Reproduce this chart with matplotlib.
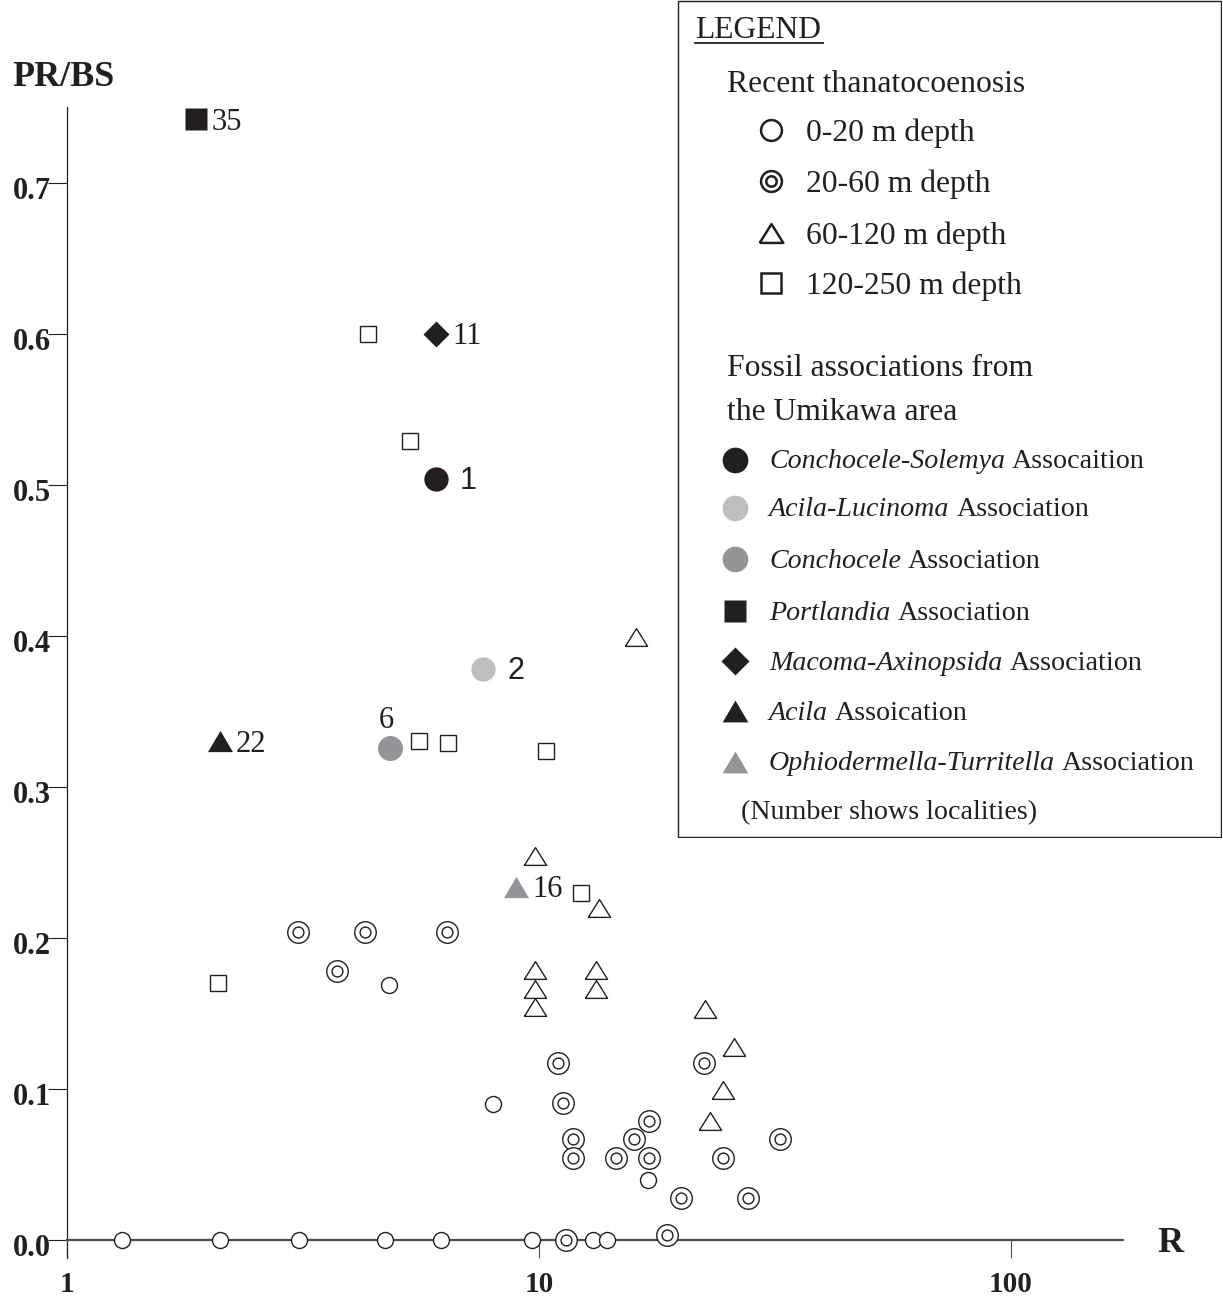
import numpy as np
import matplotlib
matplotlib.use("Agg")
import matplotlib.pyplot as plt
from matplotlib.patches import Rectangle
from matplotlib.transforms import ScaledTranslation

plt.rcParams['font.family'] = ['Liberation Serif', 'DejaVu Serif']

# ---- data (R = x, PR/BS = y) ----
# recent thanatocoenosis
r_0_20 = [4.82, 8.01, 17.0, 1.31, 2.11, 3.10, 4.73, 6.21, 9.69, 13.05, 13.97]
p_0_20 = [0.169, 0.090, 0.040, 0.0, 0.0, 0.0, 0.0, 0.0, 0.0, 0.0, 0.0]

r_20_60 = [3.09, 4.29, 6.40, 3.74, 11.0, 11.27, 11.83, 11.83, 14.6, 15.9,
           17.1, 17.1, 20.0, 27.7, 24.6, 22.4, 32.5, 11.4, 18.7]
p_20_60 = [0.204, 0.204, 0.204, 0.178, 0.117, 0.091, 0.067, 0.054, 0.054, 0.067,
           0.079, 0.054, 0.028, 0.028, 0.054, 0.117, 0.067, 0.0, 0.003]

r_60_120 = [16.1, 9.83, 13.4, 9.83, 9.83, 9.83, 13.2, 13.2, 22.5, 25.9, 24.6, 23.1]
p_60_120 = [0.399, 0.254, 0.220, 0.179, 0.166, 0.154, 0.179, 0.166, 0.153, 0.128, 0.099, 0.079]

r_120_250 = [4.35, 5.34, 5.58, 6.43, 10.37, 12.3, 2.09]
p_120_250 = [0.600, 0.529, 0.330, 0.329, 0.324, 0.230, 0.170]

# fossil associations (Umikawa area)
fossil_names = ['Conchocele-Solemya', 'Acila-Lucinoma', 'Conchocele', 'Portlandia',
                'Macoma-Axinopsida', 'Acila', 'Ophiodermella-Turritella']
fossil_suffix = ['Assocaition', 'Association', 'Association', 'Association',
                 'Association', 'Assoication', 'Association']
fossil_r = [6.06, 7.63, 4.84, 1.877, 6.06, 2.11, 8.96]
fossil_p = [0.504, 0.378, 0.326, 0.742, 0.600, 0.330, 0.234]
fossil_loc = ['1', '2', '6', '35', '11', '22', '16']

xticks = [1, 10, 100]
yticks = [0.0, 0.1, 0.2, 0.3, 0.4, 0.5, 0.6, 0.7]

BLACK = '#231f20'
LIGHT = '#bcbec0'
GREY = '#939598'

tri_open = [(-1, -0.8), (1, -0.8), (0, 0.8), (-1, -0.8)]
tri_fill = [(-1, -0.85), (1, -0.85), (0, 0.85), (-1, -0.85)]

fossil_style = [
    dict(marker='o', ms=17.5, color=BLACK),
    dict(marker='o', ms=17.5, color=LIGHT),
    dict(marker='o', ms=18, color=GREY),
    dict(marker='s', ms=16.5, color=BLACK),
    dict(marker='D', ms=13, color=BLACK),
    dict(marker=tri_fill, ms=18, color=BLACK),
    dict(marker=tri_fill, ms=18, color=GREY),
]
# label offsets in pixels, (dx, dy, font)
label_pos = [(23, -2, 'Liberation Sans'), (24, -2, 'Liberation Sans'), (-4, 27, 'Liberation Serif'),
             (15, -3, 'Liberation Serif'), (16, -3, 'Liberation Serif'),
             (16, -3, 'Liberation Serif'), (16, -3, 'Liberation Serif')]

W, H = 1223, 1299
fig = plt.figure(figsize=(W / 100, H / 100), dpi=100)
ax = fig.add_axes([67 / W, 1 - 1258 / H, (1123 - 67) / W, (1258 - 107) / H])

ax.set_xscale('log')
ax.set_xlim(1, 173)
ax.set_ylim(-0.0119, 0.75)

ax.spines['top'].set_visible(False)
ax.spines['right'].set_visible(False)
ax.spines['bottom'].set_position(('data', 0))
ax.spines['bottom'].set_color('#4d4d4d')
ax.spines['bottom'].set_linewidth(1.6)
ax.spines['left'].set_linewidth(0.9)
ax.spines['left'].set_color(BLACK)

ax.set_xticks(xticks)
ax.set_xticklabels([str(t) for t in xticks])
ax.xaxis.set_minor_locator(matplotlib.ticker.NullLocator())
ax.set_yticks(yticks)
ax.set_yticklabels(['%.1f' % t for t in yticks])
ax.tick_params(axis='x', direction='out', length=13, width=0.8, color='#4d4d4d', pad=9,
               labelsize=21)
ax.tick_params(axis='y', direction='out', length=13.5, width=0.8, color=BLACK, pad=-2,
               labelsize=22)
shift = ScaledTranslation(0, -5 / 100, fig.dpi_scale_trans)
for lab in ax.get_yticklabels():
    lab.set_transform(lab.get_transform() + shift)
for lab in ax.get_xticklabels() + ax.get_yticklabels():
    lab.set_fontweight('bold')
    lab.set_color(BLACK)

fig.text(12 / W, 1 - 77 / H, 'PR/BS', fontsize=26, fontweight='bold', color=BLACK,
         va='center', ha='left')
fig.text(1170 / W, 1 - 1243 / H, 'R', fontsize=26, fontweight='bold', color=BLACK,
         va='center', ha='center')

# recent samples
kw = dict(ls='none', mfc='white', mec=BLACK, mew=1.0, clip_on=False, zorder=3)
ax.plot(r_0_20, p_0_20, marker='o', ms=11.5, **kw)
ax.plot(r_20_60, p_20_60, marker='o', ms=15.5, **kw)
ax.plot(r_20_60, p_20_60, marker='o', ms=7.8, **kw)
ax.plot(r_60_120, p_60_120, marker=tri_open, ms=16, **kw)
ax.plot(r_120_250, p_120_250, marker='s', ms=11.3, **kw)

# fossil associations
for i in range(len(fossil_r)):
    st = fossil_style[i]
    ax.plot([fossil_r[i]], [fossil_p[i]], ls='none', marker=st['marker'], ms=st['ms'],
            mfc=st['color'], mec='none', clip_on=False, zorder=4)
    dx, dy, fam = label_pos[i]
    ax.annotate(fossil_loc[i], (fossil_r[i], fossil_p[i]), xytext=(dx, dy),
                textcoords='offset pixels', ha='left' if dx > 0 else 'center',
                va='center', fontsize=22, family=fam, color=BLACK)

# ---- legend box ----
bx0, bw, bh = 677, 545, 838
lax = fig.add_axes([bx0 / W, 1 - bh / H, bw / W, bh / H])
lax.set_xlim(0, bw)
lax.set_ylim(bh, 0)
lax.axis('off')
lax.add_patch(Rectangle((0.5, 0.5), bw - 1.5, bh - 1.5, fill=False, ec=BLACK, lw=1.0))

fs = 22.8
fs2 = 20.2
lax.text(18, 31, 'LEGEND', fontsize=fs, va='center', ha='left', color=BLACK)
lax.plot([18, 146], [43, 43], color=BLACK, lw=1.3)
lax.text(50, 85, 'Recent thanatocoenosis', fontsize=fs, va='center', ha='left', color=BLACK)

recent_labels = ['0-20 m depth', '20-60 m depth', '60-120 m depth', '120-250 m depth']
ys = [130, 181, 233, 283]
lkw = dict(ls='none', mfc='white', mec=BLACK, mew=1.8)
lax.plot([94], [ys[0]], marker='o', ms=15, **lkw)
lax.plot([94], [ys[1]], marker='o', ms=15, **lkw)
lax.plot([94], [ys[1]], marker='o', ms=7.5, **lkw)
lax.plot([94], [ys[2]], marker=tri_open, ms=17, **lkw)
lax.plot([94], [ys[3]], marker='s', ms=14, **lkw)
for y, t in zip(ys, recent_labels):
    lax.text(129, y + 3, t, fontsize=fs, va='center', ha='left', color=BLACK)

lax.text(50, 368, 'Fossil associations from', fontsize=fs, va='center', ha='left', color=BLACK)
lax.text(50, 413, 'the Umikawa area', fontsize=fs, va='center', ha='left', color=BLACK)

fig.canvas.draw()
rend = fig.canvas.get_renderer()
fys = [460, 508, 559, 611, 661, 711, 762]
leg_ms = [18.5, 18.5, 18.5, 16.5, 14, 18.5, 18.5]
for i, y in enumerate(fys):
    st = fossil_style[i]
    lax.plot([58], [y], ls='none', marker=st['marker'], ms=leg_ms[i], mfc=st['color'], mec='none')
    t = lax.text(92, y + 2, fossil_names[i], fontsize=fs2, style='italic', va='center', ha='left',
                 color=BLACK)
    bb = t.get_window_extent(renderer=rend)
    x1 = lax.transData.inverted().transform((bb.x1, bb.y0))[0]
    lax.text(x1 + 7, y + 2, fossil_suffix[i], fontsize=fs2, va='center', ha='left', color=BLACK)

lax.text(64, 813, '(Number shows localities)', fontsize=fs2, va='center', ha='left', color=BLACK)

fig.savefig('out.png', dpi=100)
